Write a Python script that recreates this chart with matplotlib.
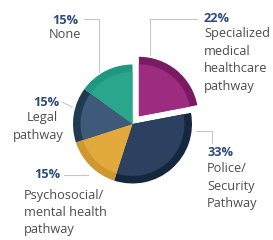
import matplotlib.pyplot as plt

plt.rcParams['font.family'] = ['Open Sans', 'DejaVu Sans']

# data
shares = [22, 33, 15, 15, 15]
names = ['Specialized medical healthcare pathway', 'Police/ Security Pathway',
         'Psychosocial/ mental health pathway', 'Legal pathway', 'None']
main_colors = ['#9c2c80', '#2c405f', '#e2aa3c', '#3f5979', '#2aa68c']
rim_colors = ['#7a1a62', '#15263f', '#cf982e', '#1f3b52', '#1f987f']

W, H = 273, 240


def Y(y):
    # picture rows run downwards
    return H - y


fig = plt.figure(figsize=(2.73, 2.40), dpi=100)
ax = fig.add_axes([0, 0, 1, 1])

center = (132.5, Y(124))
explode = [10, 0, 0, 0, 0]
ax.pie(shares, colors=rim_colors, radius=59.5, center=center, startangle=90,
       counterclock=False, explode=explode, wedgeprops=dict(linewidth=0))
ax.pie(shares, colors=main_colors, radius=52, center=center, startangle=90,
       counterclock=False, explode=explode, wedgeprops=dict(linewidth=0))

ax.set_xlim(0, W)
ax.set_ylim(0, H)
ax.set_aspect('equal')
ax.axis('off')

pct_kw = dict(fontsize=9.2, fontweight='bold', color='#2b4c80', va='center')
lab_kw = dict(fontsize=9.2, color='#4d4d4d', va='center')
line_kw = dict(color='#c8c8c8', lw=0.8)

# None
ax.text(65, Y(20), '15%', ha='center', **pct_kw)
ax.text(65, Y(34), 'None', ha='center', **lab_kw)
ax.plot([84, 99, 99], [Y(19), Y(19), Y(72)], **line_kw)

# Specialized medical
ax.text(204, Y(19), '22%', ha='left', **pct_kw)
for i, t in enumerate(['Specialized', 'medical', 'healthcare', 'pathway']):
    ax.text(204, Y(34 + 17.5 * i), t, ha='left', **lab_kw)
ax.plot([197, 150, 150], [Y(19), Y(19), Y(55)], **line_kw)

# Legal
ax.text(46, Y(103), '15%', ha='center', **pct_kw)
ax.text(42, Y(118), 'Legal', ha='center', **lab_kw)
ax.text(38, Y(135), 'pathway', ha='center', **lab_kw)
ax.plot([62, 72], [Y(102), Y(107)], **line_kw)

# Psychosocial
ax.text(47, Y(174), '15%', ha='center', **pct_kw)
for i, t in enumerate(['Psychosocial/', 'mental health', 'pathway']):
    ax.text(24, Y(195 + 17.5 * i), t, ha='left', **lab_kw)
ax.plot([64, 88], [Y(175), Y(175)], **line_kw)

# Police
ax.text(207, Y(153), '33%', ha='left', **pct_kw)
for i, t in enumerate(['Police/', 'Security', 'Pathway']):
    ax.text(207, Y(169 + 17.5 * i), t, ha='left', **lab_kw)
ax.plot([196, 212, 212], [Y(131), Y(131), Y(143)], **line_kw)

fig.savefig('out.png', dpi=100)
